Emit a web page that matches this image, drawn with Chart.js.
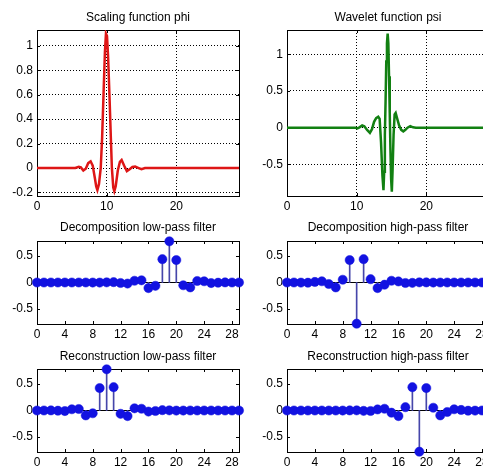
<!DOCTYPE html>
<html>
<head>
<meta charset="utf-8">
<script src="https://cdn.jsdelivr.net/npm/chart.js@4.4.0/dist/chart.umd.min.js"></script>
<style>
  html, body { margin: 0; padding: 0; background: #fff; }
  #page { position: relative; width: 483px; height: 474px; overflow: hidden; background: #fff; }
  #page canvas { position: absolute; }
</style>
</head>
<body>
<div id="page">
  <canvas id="phiChart"></canvas>
  <canvas id="psiChart"></canvas>
  <canvas id="loDChart"></canvas>
  <canvas id="hiDChart"></canvas>
  <canvas id="loRChart"></canvas>
  <canvas id="hiRChart"></canvas>
</div>
<script>

// scaling function phi
const phiX = [0, 5.5, 6.0, 6.3, 6.65, 7.0, 7.35, 7.7, 8.0, 8.3,
  8.5, 8.67, 8.9, 9.15, 9.35, 9.55, 9.75, 9.9, 10.05, 10.2,
  10.4, 10.6, 10.75, 10.95, 11.1, 11.3, 11.6, 11.9, 12.15, 12.5,
  12.9, 13.3, 13.7, 14.1, 14.6, 15.0, 15.5, 29];
const phiY = [0, 0, 0.01, 0.005, -0.02, -0.005, 0.04, 0.055, 0.02, -0.08,
  -0.15, -0.18, -0.13, 0.0, 0.25, 0.6, 0.95, 1.1, 1.08, 0.92,
  0.6, 0.25, 0.0, -0.16, -0.19, -0.15, -0.02, 0.05, 0.065, 0.02,
  -0.025, -0.01, 0.008, 0.012, 0.0, -0.01, 0, 0];

// wavelet function psi
const psiX = [0, 9.8, 10.1, 10.4, 10.8, 11.1, 11.5, 11.9, 12.2, 12.5,
  12.8, 13.1, 13.3, 13.5, 13.7, 13.85, 13.95, 14.05, 14.15, 14.25,
  14.35, 14.45, 14.55, 14.65, 14.75, 14.85, 14.95, 15.05, 15.15, 15.3,
  15.45, 15.6, 15.8, 16.1, 16.4, 16.7, 17.0, 17.3, 17.7, 18.1,
  18.5, 29];
const psiY = [0, 0, -0.01, 0.005, 0.03, 0.02, -0.03, -0.07, -0.02, 0.08,
  0.13, 0.15, 0.12, -0.2, -0.65, -0.85, -0.6, -0.1, 0.35, 0.9,
  1.15, 1.28, 1.15, 0.7, 0.2, -0.3, -0.7, -0.87, -0.6, -0.1,
  0.18, 0.2, 0.13, 0.03, -0.03, -0.05, -0.03, 0.0, 0.02, 0.005,
  0, 0];

// filter taps
const filterIndex = [0, 1, 2, 3, 4, 5, 6, 7, 8, 9, 10, 11, 12, 13, 14,
  15, 16, 17, 18, 19, 20, 21, 22, 23, 24, 25, 26, 27, 28, 29];

const loD = [0, 0, 0, 0, 0, 0, 0.0001, 0.0003, -0.0006, -0.0017,
  0.0024, 0.0068, -0.0092, -0.0198, 0.0327, 0.0413, -0.1056, -0.0620, 0.4380, 0.7743,
  0.4216, -0.0520, -0.0919, 0.0282, 0.0234, -0.0101, -0.0042, 0.0022, 0.0004, -0.0002];

const hiD = [0.0002, 0.0004, -0.0022, -0.0042, 0.0101, 0.0234, -0.0282, -0.0919, 0.0520, 0.4216,
  -0.7743, 0.4380, 0.0620, -0.1056, -0.0413, 0.0327, 0.0198, -0.0092, -0.0068, 0.0024,
  0.0017, -0.0006, -0.0003, 0.0001, 0, 0, 0, 0, 0, 0];

const loR = [-0.0002, 0.0004, 0.0022, -0.0042, -0.0101, 0.0234, 0.0282, -0.0919, -0.0520, 0.4216,
  0.7743, 0.4380, -0.0620, -0.1056, 0.0413, 0.0327, -0.0198, -0.0092, 0.0068, 0.0024,
  -0.0017, -0.0006, 0.0003, 0.0001, 0, 0, 0, 0, 0, 0];

const hiR = [0, 0, 0, 0, 0, 0, 0.0001, -0.0003, -0.0006, 0.0017,
  0.0024, -0.0068, -0.0092, 0.0198, 0.0327, -0.0413, -0.1056, 0.0620, 0.4380, -0.7743,
  0.4216, 0.0520, -0.0919, -0.0282, 0.0234, 0.0101, -0.0042, -0.0022, 0.0004, 0.0002];

// tick labels
const waveXTicks = [0, 10, 20];
const phiYTicks = [-0.2, 0, 0.2, 0.4, 0.6, 0.8, 1];
const psiYTicks = [-0.5, 0, 0.5, 1];
const filterXTicks = [0, 4, 8, 12, 16, 20, 24, 28];
const filterYTicks = [-0.5, 0, 0.5];

Chart.defaults.font.family = "'Liberation Sans', Arial, sans-serif";
Chart.defaults.font.size = 12;
Chart.defaults.color = "#000";

const AXIS_W = 37;
const TITLE_H = 30;
const XAXIS_H = 20;
const RIGHT_PAD = 8;

// matlab style box with inward ticks
const boxPlugin = {
  id: "box",
  beforeDatasetsDraw(chart) {
    const a = chart.chartArea;
    const ctx = chart.ctx;
    const xs = chart.scales.x;
    const ys = chart.scales.y;
    ctx.save();
    ctx.strokeStyle = "#000";
    ctx.lineWidth = 1;
    ctx.strokeRect(Math.round(a.left) + 0.5, Math.round(a.top) + 0.5,
      Math.round(a.width), Math.round(a.height));
    ctx.beginPath();
    xs.ticks.forEach(t => {
      const p = Math.round(xs.getPixelForValue(t.value)) + 0.5;
      ctx.moveTo(p, a.bottom); ctx.lineTo(p, a.bottom - 3);
      ctx.moveTo(p, a.top); ctx.lineTo(p, a.top + 3);
    });
    ys.ticks.forEach(t => {
      const p = Math.round(ys.getPixelForValue(t.value)) + 0.5;
      ctx.moveTo(a.left, p); ctx.lineTo(a.left + 3, p);
      ctx.moveTo(a.right, p); ctx.lineTo(a.right - 3, p);
    });
    ctx.stroke();
    ctx.restore();
  }
};

function makePanel(id, left, top, width, height, cfg) {

  const canvas = document.getElementById(id);
  canvas.width = width + AXIS_W + RIGHT_PAD;
  canvas.height = height + TITLE_H + XAXIS_H;
  canvas.style.left = (left - AXIS_W) + "px";
  canvas.style.top = (top - TITLE_H) + "px";

  const titleTop = cfg.titleCenter - 7.2;

  new Chart(canvas, {
    type: "scatter",
    data: { datasets: cfg.datasets },
    plugins: [boxPlugin],
    options: {
      responsive: false,
      animation: false,
      events: [],
      layout: { padding: { left: 0, right: RIGHT_PAD, top: 0, bottom: 0 } },
      plugins: {
        legend: { display: false },
        tooltip: { enabled: false },
        title: {
          display: true,
          fullSize: false,
          text: cfg.title,
          color: "#000",
          font: { size: 12, weight: "normal" },
          padding: { top: titleTop, bottom: TITLE_H - titleTop - 14.4 }
        }
      },
      scales: {
        x: {
          type: "linear",
          min: 0,
          max: 29,
          offset: false,
          afterBuildTicks: s => { s.ticks = cfg.xTicks.map(v => ({ value: v })); },
          afterFit: s => { s.height = XAXIS_H; },
          ticks: { padding: 3, maxRotation: 0, autoSkip: false, callback: v => String(v) },
          grid: { display: cfg.grid, drawTicks: false, color: "#000", lineWidth: 1 },
          border: { display: false, dash: [1, 2] }
        },
        y: {
          type: "linear",
          min: cfg.yMin,
          max: cfg.yMax,
          afterBuildTicks: s => { s.ticks = cfg.yTicks.map(v => ({ value: v })); },
          afterFit: s => { s.width = AXIS_W; },
          ticks: { padding: 4, autoSkip: false, callback: v => String(v) },
          grid: { display: cfg.grid, drawTicks: false, color: "#000", lineWidth: 1 },
          border: { display: false, dash: [1, 2] }
        }
      }
    }
  });

}

function curveData(xs, ys, color) {
  return [{
    data: xs.map((x, i) => ({ x: x, y: ys[i] })),
    showLine: true,
    borderColor: color,
    borderWidth: 2.5,
    pointRadius: 0,
    tension: 0
  }];
}

function stemData(values) {
  const pts = filterIndex.map((x, i) => ({ x: x, y: values[i] }));
  return [
    {
      type: "scatter",
      data: pts,
      pointRadius: 4.6,
      pointBackgroundColor: "rgb(18,18,225)",
      pointBorderColor: "rgb(18,18,225)",
      pointBorderWidth: 0.5,
      clip: false,
      order: 0
    },
    {
      type: "bar",
      data: pts,
      backgroundColor: "rgb(70,70,170)",
      borderWidth: 0,
      barThickness: 1,
      order: 1
    },
    {
      type: "scatter",
      data: [{ x: 0, y: 0 }, { x: 29, y: 0 }],
      showLine: true,
      borderColor: "#000",
      borderWidth: 1,
      pointRadius: 0,
      order: 2
    }
  ];
}

makePanel("phiChart", 37, 30, 202, 166, {
  title: "Scaling function phi", titleCenter: 18, grid: true,
  yMin: -0.229, yMax: 1.13, xTicks: waveXTicks, yTicks: phiYTicks,
  datasets: curveData(phiX, phiY, "rgb(222,22,22)")
});

makePanel("psiChart", 287, 30, 202, 166, {
  title: "Wavelet function psi", titleCenter: 18, grid: true,
  yMin: -0.93, yMax: 1.33, xTicks: waveXTicks, yTicks: psiYTicks,
  datasets: curveData(psiX, psiY, "rgb(18,128,18)")
});

makePanel("loDChart", 37, 241, 202, 83, {
  title: "Decomposition low-pass filter", titleCenter: 17, grid: false,
  yMin: -0.78, yMax: 0.78, xTicks: filterXTicks, yTicks: filterYTicks,
  datasets: stemData(loD)
});

makePanel("hiDChart", 287, 241, 202, 83, {
  title: "Decomposition high-pass filter", titleCenter: 17, grid: false,
  yMin: -0.78, yMax: 0.78, xTicks: filterXTicks, yTicks: filterYTicks,
  datasets: stemData(hiD)
});

makePanel("loRChart", 37, 369, 202, 83, {
  title: "Reconstruction low-pass filter", titleCenter: 18, grid: false,
  yMin: -0.78, yMax: 0.78, xTicks: filterXTicks, yTicks: filterYTicks,
  datasets: stemData(loR)
});

makePanel("hiRChart", 287, 369, 202, 83, {
  title: "Reconstruction high-pass filter", titleCenter: 18, grid: false,
  yMin: -0.78, yMax: 0.78, xTicks: filterXTicks, yTicks: filterYTicks,
  datasets: stemData(hiR)
});

</script>
</body>
</html>
